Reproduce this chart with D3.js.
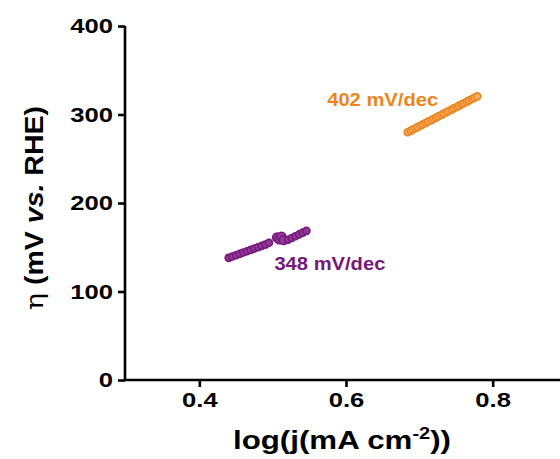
<!DOCTYPE html>
<html>
<head>
<meta charset="utf-8">
<script src="https://cdn.jsdelivr.net/npm/d3@7"></script>
<style>
  body { margin: 0; background: #fff; }
  text { font-family: "Liberation Sans", Arial, sans-serif; }
</style>
</head>
<body>
<div id="chart"></div>
<script>
// data
var orangeX = [0.684, 0.688, 0.691, 0.695, 0.698, 0.702, 0.705, 0.709, 0.712, 0.716, 0.719, 0.723, 0.726, 0.730,
               0.733, 0.737, 0.740, 0.744, 0.747, 0.751, 0.754, 0.758, 0.761, 0.765, 0.768, 0.772, 0.775, 0.779];
var orangeY = [280, 281.5, 283, 284.5, 286, 287.5, 289, 290.5, 292, 293.5, 295, 296.5, 298, 299.5,
               301, 302.5, 304, 305.5, 307, 308.5, 310, 311.5, 313, 314.5, 316, 317.5, 319, 320.5];
var purpleX = [0.440, 0.445, 0.450, 0.455, 0.460, 0.465, 0.470, 0.475, 0.480, 0.485, 0.490, 0.495,
               0.506, 0.509, 0.512, 0.515, 0.521, 0.526, 0.531, 0.536, 0.541, 0.546];
var purpleY = [138, 139.5, 141, 142.5, 144, 145.5, 147, 148.5, 150, 151.5, 153, 155,
               161, 159, 162, 158, 158.5, 160.5, 162.5, 164.5, 166.5, 168.5];
var purpleR = [3.5, 3.5, 3.5, 3.5, 3.5, 3.5, 3.5, 3.5, 3.5, 3.5, 3.5, 3.5,
               4.4, 4.4, 4.4, 4.4, 3.5, 3.5, 3.5, 3.5, 3.5, 3.5];
var xTicks = [0.4, 0.6, 0.8];
var yTicks = [0, 100, 200, 300, 400];
var series = [
  { name: "orange", label: "402 mV/dec", xs: orangeX, ys: orangeY, lx: 0.65, ly: 310 },
  { name: "purple", label: "348 mV/dec", xs: purpleX, ys: purpleY, rs: purpleR, lx: 0.578, ly: 124 }
];

var W = 560, H = 459;

var svg = d3.select("#chart").append("svg")
    .attr("width", W).attr("height", H);

var x = d3.scaleLinear().domain([0.3, 0.9]).range([126, 566]);
var y = d3.scaleLinear().domain([0, 400]).range([380, 26]);

var color = { orange: "#ec8520", purple: "#76187c" };
var fill = { orange: "#f6ad62", purple: "#8f3a94" };

// widen a text node horizontally, the original lettering is stretched
function widen(sel, k) {
  sel.each(function() {
    var len = this.getComputedTextLength();
    d3.select(this).attr("textLength", len * k).attr("lengthAdjust", "spacingAndGlyphs");
  });
}

// axes
var xAxis = svg.append("g")
    .attr("transform", "translate(0,380)")
    .call(d3.axisBottom(x).tickValues(xTicks).tickFormat(d3.format(".1f")).tickSize(7).tickPadding(5));
var yAxis = svg.append("g")
    .attr("transform", "translate(" + (x(0.3) - 1) + ",0)")
    .call(d3.axisLeft(y).tickValues(yTicks).tickSize(7).tickPadding(5));

[xAxis, yAxis].forEach(function(a) {
  a.select(".domain").attr("stroke", "#000").attr("stroke-width", 2.6);
  a.selectAll(".tick line").attr("stroke", "#000").attr("stroke-width", 2.6);
  a.selectAll(".tick text")
    .attr("fill", "#000")
    .style("font-size", "21px")
    .style("font-weight", "bold")
    .style("font-family", "'Liberation Sans', Arial, sans-serif");
  widen(a.selectAll(".tick text"), 1.22);
});
xAxis.select(".domain").attr("d", "M" + (x(0.3) - 2) + ",0H" + W);
yAxis.select(".domain").attr("d", "M0," + y(400) + "V" + (y(0) + 1));

// points
series.forEach(function(s) {
  svg.append("g").selectAll("circle")
    .data(s.xs.map(function(v, i) { return [v, s.ys[i], s.rs ? s.rs[i] : 3.5]; }))
    .enter().append("circle")
    .attr("cx", function(d) { return x(d[0]); })
    .attr("cy", function(d) { return y(d[1]); })
    .attr("r", function(d) { return d[2]; })
    .attr("fill", fill[s.name])
    .attr("stroke", color[s.name])
    .attr("stroke-width", 1.6);

  var t = svg.append("text")
    .attr("x", x(s.lx))
    .attr("y", y(s.ly))
    .attr("text-anchor", "middle")
    .attr("fill", color[s.name])
    .style("font-size", "18px")
    .style("font-weight", "bold")
    .text(s.label);
  widen(t, 1.12);
});

// x label
var xl = svg.append("text")
    .attr("x", 342).attr("y", 449)
    .attr("text-anchor", "middle")
    .attr("fill", "#000")
    .style("font-size", "25px")
    .style("font-weight", "bold");
xl.append("tspan").text("log(j(mA cm");
xl.append("tspan").attr("dy", -10).style("font-size", "16px").text("-2");
xl.append("tspan").attr("dy", 10).text("))");
widen(xl, 1.25);

// y label
var yl = svg.append("text")
    .attr("transform", "translate(43,208) rotate(-90)")
    .attr("text-anchor", "middle")
    .attr("fill", "#000")
    .style("font-size", "25px")
    .style("font-weight", "bold");
yl.append("tspan").style("font-weight", "normal").style("font-family", "'DejaVu Serif', serif").text("η");
yl.append("tspan").text(" (mV ");
yl.append("tspan").style("font-style", "italic").text("vs.");
yl.append("tspan").text(" RHE)");
widen(yl, 1.14);
</script>
</body>
</html>
